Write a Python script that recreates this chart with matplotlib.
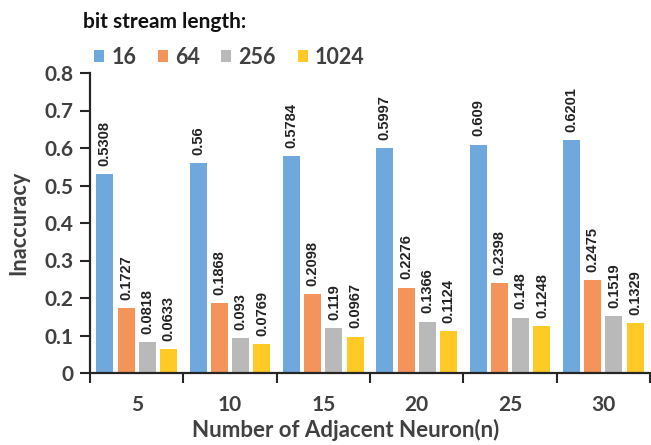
import matplotlib
matplotlib.use("Agg")
import matplotlib.pyplot as plt
from matplotlib.patches import Patch
import numpy as np

neurons = ["5", "10", "15", "20", "25", "30"]
stream_lengths = ["16", "64", "256", "1024"]
inacc_16 = [0.5308, 0.56, 0.5784, 0.5997, 0.609, 0.6201]
inacc_64 = [0.1727, 0.1868, 0.2098, 0.2276, 0.2398, 0.2475]
inacc_256 = [0.0818, 0.093, 0.119, 0.1366, 0.148, 0.1519]
inacc_1024 = [0.0633, 0.0769, 0.0967, 0.1124, 0.1248, 0.1329]
series = [inacc_16, inacc_64, inacc_256, inacc_1024]
colors = ["#6FA8DC", "#F4935A", "#B9B9B9", "#FFC926"]

label_font = "Lato"
text_gray = "#404040"

fig = plt.figure(figsize=(6.51, 4.45), dpi=100)
ax = fig.add_axes([90 / 651, 1 - 373 / 445, 560 / 651, 300 / 445])

x = np.arange(len(neurons))
width = 0.182
pitch = 0.228
for i, (vals, c) in enumerate(zip(series, colors)):
    pos = x + (i - 1.5) * pitch
    ax.bar(pos, vals, width=width, color=c, zorder=2)
    for px, v in zip(pos, vals):
        ax.annotate(f"{v:g}", (px, v), xytext=(0, 6), textcoords="offset points",
                    rotation=90, ha="center", va="bottom", fontsize=10.5,
                    family="Liberation Sans", fontweight="bold", color="#222222")

ax.set_xlim(-0.5, len(neurons) - 0.5)
ax.set_ylim(0, 0.8)
yt = np.arange(0, 0.81, 0.1)
ax.set_yticks(yt)
ax.set_yticklabels(["0" if t == 0 else f"{t:.1f}" for t in yt])

# category labels centered in groups, ticks on group boundaries
ax.set_xticks(x)
ax.set_xticklabels(neurons)
ax.tick_params(axis="x", which="major", length=0, pad=16)
ax.set_xticks(np.arange(-0.5, len(neurons)), minor=True)
ax.tick_params(axis="x", which="minor", length=7, width=1.5, color="#262626", direction="out")
ax.tick_params(axis="y", length=7, width=1.5, color="#262626", direction="out", pad=5)

for lab in ax.get_xticklabels() + ax.get_yticklabels():
    lab.set_family(label_font)
    lab.set_fontweight("bold")
    lab.set_fontsize(15)
    lab.set_color(text_gray)

for s in ["top", "right"]:
    ax.spines[s].set_visible(False)
for s in ["left", "bottom"]:
    ax.spines[s].set_linewidth(1.6)
    ax.spines[s].set_color("#262626")

ax.set_ylabel("Inaccuracy", family=label_font, fontweight="bold", fontsize=15.6,
              color=text_gray)
ax.yaxis.set_label_coords(-0.108, 0.5)
ax.set_xlabel("Number of Adjacent Neuron(n)", family=label_font, fontweight="bold",
              fontsize=16, color=text_gray)
ax.xaxis.set_label_coords(0.456, -0.152)

fig.text(83 / 651, 1 - 22 / 445, "bit stream length:", family=label_font,
         fontweight="bold", fontsize=15, color="#111111", va="center", ha="left")

handles = [Patch(facecolor=c, edgecolor="none") for c in colors]
leg = fig.legend(handles, stream_lengths, ncol=4, loc="center left",
                 bbox_to_anchor=(94 / 651, 1 - 57 / 445), frameon=False,
                 handlelength=0.47, handleheight=0.47, handletextpad=0.33,
                 columnspacing=1.0, borderaxespad=0, borderpad=0,
                 prop={"family": label_font, "weight": "bold", "size": 15.5})
for t in leg.get_texts():
    t.set_color(text_gray)

fig.savefig("out.png", dpi=100)
